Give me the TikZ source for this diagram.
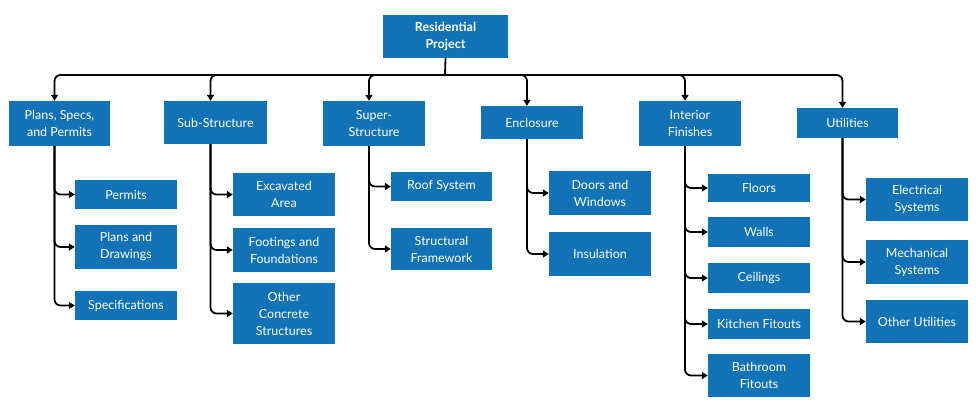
\documentclass[tikz,border=0pt]{standalone}
\usepackage{fontspec}
\setmainfont{Lato}
\usetikzlibrary{arrows.meta}
\definecolor{boxc}{HTML}{1272B6}
\begin{document}
\begin{tikzpicture}[x=1pt,y=-1pt,
  bx/.style={fill=boxc,text=white,align=center,inner sep=0pt,font=\fontsize{12.5}{17}\selectfont},
  ln/.style={line width=1.8pt,black,rounded corners=6pt,-{Triangle[length=6pt,width=7pt]}},
  pl/.style={line width=1.8pt,black}]
\useasboundingbox (0,0) rectangle (976,403);
\newcommand\bx[6]{\node[bx,minimum width={#4-#2},minimum height={#5-#3}] (#1) at ({(#2+#4)/2},{(#3+#5)/2}) {#6};}
\bx{root}{383}{15}{508}{58}{\textbf{Residential}\\\textbf{Project}}
\bx{a}{9}{101}{110}{146}{Plans, Specs,\\and Permits}
\bx{b}{164}{101}{267}{144}{Sub-Structure}
\bx{c}{323}{101}{425}{146}{Super-\\Structure}
\bx{d}{481}{106}{583}{139}{Enclosure}
\bx{e}{639}{101}{741}{146}{Interior\\Finishes}
\bx{f}{797}{108}{898}{138}{Utilities}
\bx{a1}{75}{180}{177}{209}{Permits}
\bx{a2}{75}{225}{177}{269}{Plans and\\Drawings}
\bx{a3}{75}{291}{177}{320}{Specifications}
\bx{b1}{233}{173}{335}{216}{Excavated\\Area}
\bx{b2}{233}{228}{335}{272}{Footings and\\Foundations}
\bx{b3}{233}{283}{335}{344}{Other\\Concrete\\Structures}
\bx{c1}{391}{172}{492}{201}{Roof System}
\bx{c2}{391}{228}{492}{270}{Structural\\Framework}
\bx{d1}{549}{171}{651}{215}{Doors and\\Windows}
\bx{d2}{549}{232}{651}{276}{Insulation}
\bx{e1}{708}{174}{810}{202}{Floors}
\bx{e2}{708}{217}{810}{247}{Walls}
\bx{e3}{708}{263}{810}{293}{Ceilings}
\bx{e4}{708}{309}{810}{339}{Kitchen Fitouts}
\bx{e5}{708}{354}{810}{397}{Bathroom\\Fitouts}
\bx{f1}{866}{178}{968}{221}{Electrical\\Systems}
\bx{f2}{866}{240}{968}{284}{Mechanical\\Systems}
\bx{f3}{866}{300}{968}{343}{Other Utilities}
\coordinate (bus) at (445,75);
\draw[pl] (root.south) -- (bus);
\foreach \n in {a,b,c,d,e,f}{
  \draw[ln] (bus) -| ([xshift=-5pt]\n.north);
}
\foreach \p/\l in {a/{a1,a2,a3},b/{b1,b2,b3},c/{c1,c2},d/{d1,d2},e/{e1,e2,e3,e4,e5},f/{f1,f2,f3}}{
  \foreach \k in \l {
    \draw[ln] ([xshift=-5pt]\p.south) |- (\k.west);
  }
}
\end{tikzpicture}
\end{document}
